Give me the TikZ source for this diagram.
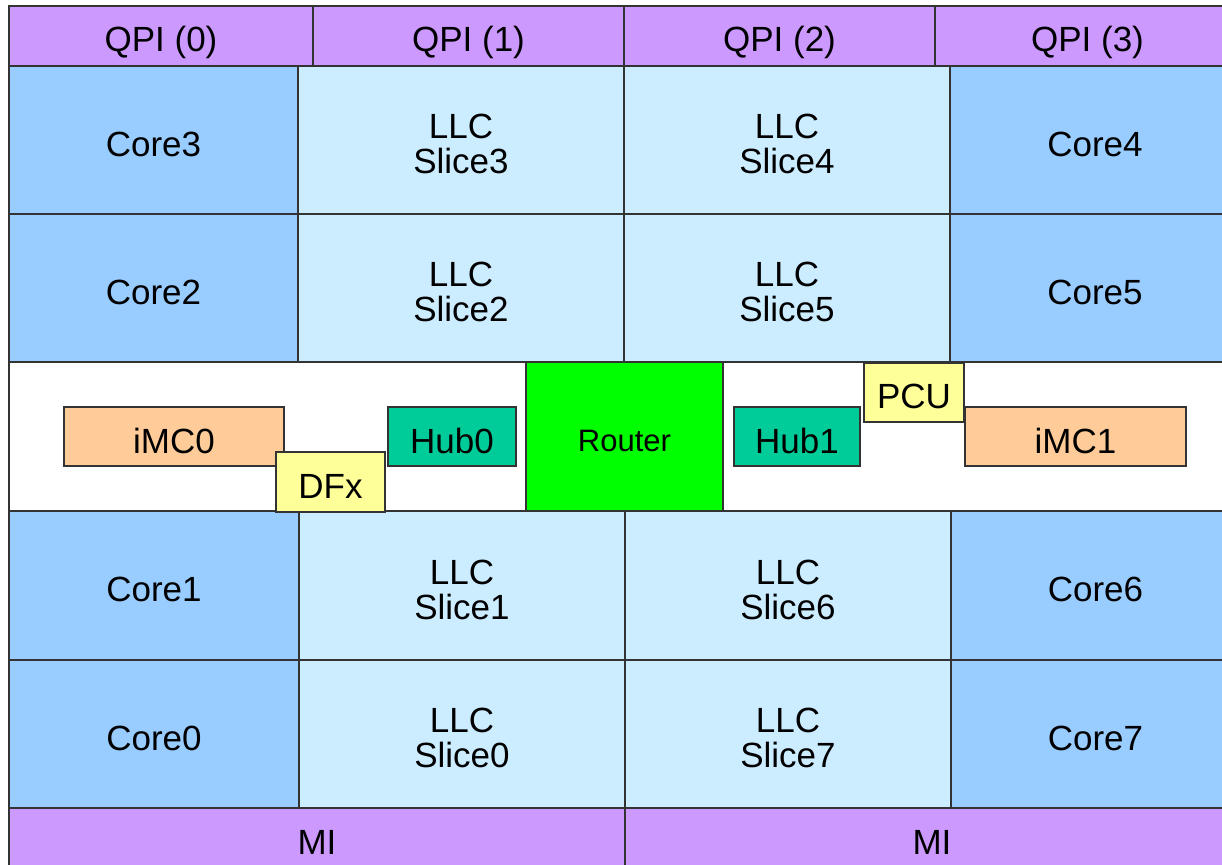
\documentclass[tikz,border=0pt]{standalone}
\usepackage{fontspec}
\setmainfont{Liberation Sans}
\begin{document}
\begin{tikzpicture}[x=0.5pt,y=-0.5pt,
  cell/.style={draw=black!80,line width=0.6pt,inner sep=0pt,outer sep=0pt},
  lbl/.style={inner sep=0pt,font=\fontsize{17.5}{17.5}\selectfont,align=center},
  qpi/.style={cell,fill=qpicol},
  core/.style={cell,fill=corecol},
  llc/.style={cell,fill=llccol},
  band/.style={cell,fill=white},
  router/.style={cell,fill=routercol},
  hub/.style={cell,fill=hubcol},
  imc/.style={cell,fill=imccol},
  misc/.style={cell,fill=misccol}]
\definecolor{qpicol}{HTML}{CC99FF}
\definecolor{corecol}{HTML}{99CCFF}
\definecolor{llccol}{HTML}{CCECFF}
\definecolor{routercol}{HTML}{00FF00}
\definecolor{hubcol}{HTML}{00CC99}
\definecolor{imccol}{HTML}{FFCC99}
\definecolor{misccol}{HTML}{FFFF99}
% block: [label options], name, style, x1, y1, x2, y2, label text
\newcommand\blk[8][]{%
  \pgfmathsetmacro\bw{(#6-#4)*0.5}\pgfmathsetmacro\bh{(#7-#5)*0.5}%
  \node[#3,minimum width=\bw pt,minimum height=\bh pt,anchor=north west] (#2) at (#4,#5) {};
  \node[lbl,#1] (#2-t) at ([yshift=-2pt]#2.center) {#8};}
\useasboundingbox (0,0) rectangle (1222,864);
\clip (0,0) rectangle (1222,864);
% QPI links along the top
\blk[yshift=-1pt]{qpi0}{qpi}{9}{6}{313}{66}{QPI (0)}
\blk[yshift=-1pt]{qpi1}{qpi}{313}{6}{624}{66}{QPI (1)}
\blk[yshift=-1pt]{qpi2}{qpi}{624}{6}{935}{66}{QPI (2)}
\blk[yshift=-1pt]{qpi3}{qpi}{935}{6}{1240}{66}{QPI (3)}
% upper cores and cache slices
\blk{core3}{core}{9}{66}{298}{214}{Core3}
\blk{llc3}{llc}{298}{66}{624}{214}{LLC\\Slice3}
\blk{llc4}{llc}{624}{66}{950}{214}{LLC\\Slice4}
\blk{core4}{core}{950}{66}{1240}{214}{Core4}
\blk{core2}{core}{9}{214}{298}{362}{Core2}
\blk{llc2}{llc}{298}{214}{624}{362}{LLC\\Slice2}
\blk{llc5}{llc}{624}{214}{950}{362}{LLC\\Slice5}
\blk{core5}{core}{950}{214}{1240}{362}{Core5}
% lower cores and cache slices
\blk{core1}{core}{9}{511}{299}{660}{Core1}
\blk{llc1}{llc}{299}{511}{625}{660}{LLC\\Slice1}
\blk{llc6}{llc}{625}{511}{951}{660}{LLC\\Slice6}
\blk{core6}{core}{951}{511}{1240}{660}{Core6}
\blk{core0}{core}{9}{660}{299}{808}{Core0}
\blk{llc0}{llc}{299}{660}{625}{808}{LLC\\Slice0}
\blk{llc7}{llc}{625}{660}{951}{808}{LLC\\Slice7}
\blk{core7}{core}{951}{660}{1240}{808}{Core7}
% memory interfaces along the bottom
\node[qpi,minimum width=308pt,minimum height=36pt,anchor=north west] (mi0) at (9,808) {};
\node[qpi,minimum width=307.5pt,minimum height=36pt,anchor=north west] (mi1) at (625,808) {};
\node[lbl] (mi0-t) at (317,842) {MI};
\node[lbl] (mi1-t) at (932,842) {MI};
% uncore band in the middle
\node[band,minimum width=615.5pt,minimum height=74.5pt,anchor=north west] (uncore) at (9,362) {};
\blk[font=\fontsize{15.5}{15.5}\selectfont]{router}{router}{526}{362}{723}{511}{Router}
\blk{imc0}{imc}{64}{407}{284}{466}{iMC0}
\blk{dfx}{misc}{276}{452}{385}{512}{DFx}
\blk{hub0}{hub}{388}{407}{516}{466}{Hub0}
\blk{hub1}{hub}{734}{407}{860}{466}{Hub1}
\blk{pcu}{misc}{864}{363}{964}{422}{PCU}
\blk{imc1}{imc}{965}{407}{1186}{466}{iMC1}
\end{tikzpicture}
\end{document}
